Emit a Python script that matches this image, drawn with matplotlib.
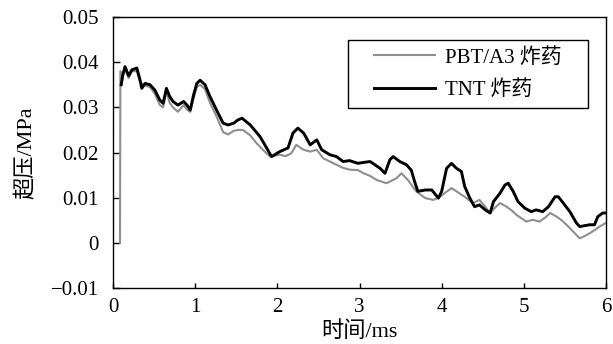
import matplotlib
matplotlib.use("Agg")
import matplotlib.pyplot as plt
from matplotlib.patches import Rectangle

plt.rcParams['font.family'] = ['Liberation Serif', 'Noto Sans CJK SC']
plt.rcParams['axes.unicode_minus'] = True

# TNT 炸药 (black curve)
t_tnt = [0.10, 0.12, 0.146, 0.19, 0.23, 0.29, 0.33, 0.35, 0.39, 0.45, 0.51, 0.57,
         0.61, 0.65, 0.69, 0.73, 0.79, 0.86, 0.90, 0.94, 0.98, 1.02, 1.06, 1.12,
         1.18, 1.26, 1.34, 1.40, 1.47, 1.52, 1.57, 1.67, 1.79, 1.87, 1.93, 2.03,
         2.13, 2.19, 2.25, 2.32, 2.40, 2.48, 2.54, 2.64, 2.72, 2.80, 2.88, 2.98,
         3.05, 3.13, 3.25, 3.31, 3.37, 3.41, 3.49, 3.57, 3.63, 3.67, 3.71, 3.80,
         3.88, 3.96, 4.00, 4.06, 4.12, 4.18, 4.24, 4.28, 4.34, 4.40, 4.46, 4.53,
         4.59, 4.63, 4.71, 4.77, 4.81, 4.87, 4.93, 5.01, 5.09, 5.15, 5.23, 5.30,
         5.38, 5.42, 5.48, 5.56, 5.64, 5.68, 5.80, 5.86, 5.90, 5.96, 6.00]
p_tnt = [0.0350, 0.0372, 0.0390, 0.0370, 0.0383, 0.0387, 0.0360, 0.0342, 0.0353, 0.0350, 0.0338, 0.0316,
         0.0309, 0.0342, 0.0324, 0.0313, 0.0305, 0.0313, 0.0305, 0.0294, 0.0327, 0.0353, 0.0360, 0.0350,
         0.0324, 0.0294, 0.0265, 0.0261, 0.0265, 0.0272, 0.0276, 0.0261, 0.0235, 0.0210, 0.0191, 0.0202,
         0.0210, 0.0243, 0.0254, 0.0243, 0.0217, 0.0228, 0.0206, 0.0195, 0.0191, 0.0180, 0.0182, 0.0176,
         0.0178, 0.0180, 0.0165, 0.0154, 0.0184, 0.0191, 0.0180, 0.0173, 0.0161, 0.0136, 0.0114, 0.0117,
         0.0117, 0.0099, 0.0114, 0.0165, 0.0176, 0.0165, 0.0158, 0.0125, 0.0100, 0.0080, 0.0084, 0.0073,
         0.0066, 0.0091, 0.0110, 0.0128, 0.0132, 0.0114, 0.0091, 0.0077, 0.0069, 0.0073, 0.0069, 0.0080,
         0.0102, 0.0102, 0.0088, 0.0069, 0.0044, 0.0036, 0.0040, 0.0040, 0.0058, 0.0066, 0.0066]

# PBT/A3 炸药 (grey curve)
t_pbt = [0.085, 0.09, 0.12, 0.15, 0.19, 0.23, 0.29, 0.33, 0.39, 0.45, 0.51, 0.57,
         0.61, 0.65, 0.69, 0.73, 0.79, 0.86, 0.90, 0.94, 0.98, 1.02, 1.06, 1.12,
         1.18, 1.26, 1.34, 1.40, 1.47, 1.52, 1.58, 1.67, 1.75, 1.83, 1.91, 2.03,
         2.10, 2.17, 2.23, 2.32, 2.40, 2.48, 2.56, 2.64, 2.72, 2.80, 2.88, 2.98,
         3.05, 3.13, 3.21, 3.33, 3.45, 3.51, 3.59, 3.69, 3.80, 3.90, 3.98, 4.05,
         4.12, 4.18, 4.28, 4.38, 4.46, 4.53, 4.59, 4.65, 4.71, 4.79, 4.85, 4.91,
         5.03, 5.11, 5.19, 5.26, 5.32, 5.40, 5.46, 5.52, 5.60, 5.68, 5.74, 5.80,
         5.86, 5.92, 6.00]
p_pbt = [0.0000, 0.0380, 0.0370, 0.0385, 0.0365, 0.0380, 0.0380, 0.0355, 0.0348, 0.0345, 0.0330, 0.0305,
         0.0300, 0.0335, 0.0310, 0.0300, 0.0290, 0.0305, 0.0295, 0.0290, 0.0320, 0.0345, 0.0350, 0.0340,
         0.0310, 0.0280, 0.0245, 0.0240, 0.0248, 0.0250, 0.0250, 0.0238, 0.0220, 0.0205, 0.0191, 0.0195,
         0.0192, 0.0198, 0.0217, 0.0206, 0.0202, 0.0206, 0.0187, 0.0180, 0.0173, 0.0166, 0.0162, 0.0161,
         0.0154, 0.0148, 0.0139, 0.0132, 0.0143, 0.0154, 0.0139, 0.0114, 0.0099, 0.0095, 0.0102, 0.0112,
         0.0121, 0.0114, 0.0102, 0.0088, 0.0095, 0.0080, 0.0066, 0.0078, 0.0088, 0.0080, 0.0072, 0.0062,
         0.0047, 0.0051, 0.0047, 0.0056, 0.0066, 0.0058, 0.0050, 0.0040, 0.0025, 0.0010, 0.0015, 0.0021,
         0.0028, 0.0036, 0.0044]

x_ticks = [0, 1, 2, 3, 4, 5, 6]
y_ticks = [-0.01, 0, 0.01, 0.02, 0.03, 0.04, 0.05]
y_tick_labels = ['\u22120.01', '0', '0.01', '0.02', '0.03', '0.04', '0.05']

fig = plt.figure(figsize=(6.13, 3.44), dpi=100)
ax = fig.add_axes([113 / 613, 56 / 344, 493 / 613, 271 / 344])

ax.plot(t_pbt, p_pbt, color='#8e8e8e', lw=1.5, label='PBT/A3 炸药')
ax.plot(t_tnt, p_tnt, color='black', lw=2.1, label='TNT 炸药')

ax.set_xlim(0, 6)
ax.set_ylim(-0.01, 0.05)
ax.set_xticks(x_ticks)
ax.set_xticklabels([str(v) for v in x_ticks])
ax.set_yticks(y_ticks)
ax.set_yticklabels(y_tick_labels)
ax.tick_params(axis='both', direction='in', labelsize=15, width=1)
ax.tick_params(axis='x', length=3.5, pad=7)
ax.tick_params(axis='y', length=5, pad=10)
for s in ax.spines.values():
    s.set_linewidth(1.0)

ax.set_xlabel('时间/ms', fontsize=16, labelpad=3)
ax.set_ylabel('超压/MPa', fontsize=16, labelpad=10)

# legend frame drawn separately so the box can be wider than the entries
box = Rectangle((0.477, 0.664), 0.486, 0.251, transform=ax.transAxes,
                fill=True, facecolor='white', edgecolor='black', lw=1.0, zorder=4)
ax.add_patch(box)
leg = ax.legend(loc='center', bbox_to_anchor=(0.72, 0.79), frameon=False,
                fontsize=15, handlelength=2.9, handletextpad=0.5,
                borderpad=0.2, labelspacing=0.6)
leg.set_zorder(5)

fig.savefig('out.png', dpi=100)
